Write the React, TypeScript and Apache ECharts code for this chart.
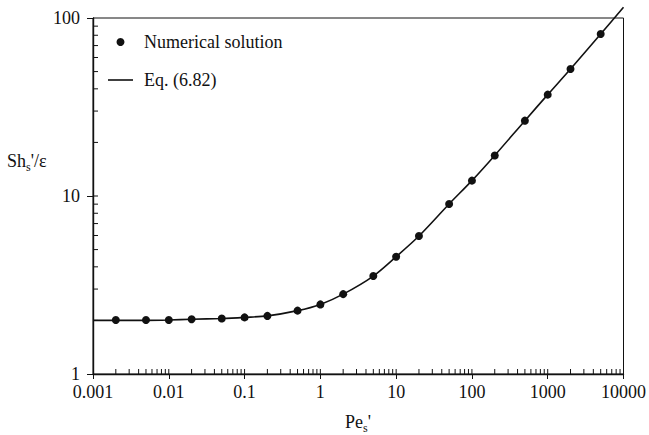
import React, { useEffect, useRef } from "react";
import * as echarts from "echarts";

// Numerical solution points
const pointX = [0.002, 0.005, 0.01, 0.02, 0.05, 0.1, 0.2, 0.5, 1, 2, 5, 10, 20, 50, 100, 200, 500, 1000, 2000, 5000];
const pointY = [2.01, 2.01, 2.01, 2.03, 2.05, 2.08, 2.12, 2.27, 2.46, 2.81, 3.55, 4.56, 5.96, 9.02, 12.2, 16.9, 26.5, 37.1, 51.7, 81.3];

// Eq. (6.82) curve
const lineX = [0.001, 0.002, 0.005, 0.01, 0.02, 0.05, 0.1, 0.2, 0.5, 1, 2, 5, 10, 20, 50, 100, 200, 500, 1000, 2000, 5000, 10000];
const lineY = [2.0, 2.0, 2.0, 2.01, 2.03, 2.05, 2.08, 2.12, 2.27, 2.46, 2.81, 3.55, 4.56, 5.96, 9.02, 12.2, 16.9, 26.5, 37.1, 51.7, 81.3, 115];

// Legend labels
const seriesNames = ["Numerical solution", "Eq. (6.82)"];

// Tick labels
const xTickLabels = ["0.001", "0.01", "0.1", "1", "10", "100", "1000", "10000"];
const yTickLabels = ["1", "10", "100"];

// Tick positions (log decades and minor mantissas)
const xDecades = [0.001, 0.01, 0.1, 1, 10, 100, 1000];
const yDecades = [1, 10];
const minorMantissas = [2, 3, 4, 5, 6, 7, 8, 9];
const xMajorInner = [0.01, 0.1, 1, 10, 100, 1000];
const yMajorInner = [10];

const FONT = "'Liberation Serif', 'Times New Roman', Times, 'DejaVu Serif', serif";
const INK = "#111";

export default function App() {
  const ref = useRef<HTMLDivElement>(null);
  useEffect(() => {
    if (!ref.current) return;
    const chart = echarts.init(ref.current, null, { renderer: "svg" });

    const tickData: number[][] = [];
    xDecades.forEach((d) => minorMantissas.forEach((m) => tickData.push([m * d, 1, 0, 5])));
    xMajorInner.forEach((v) => tickData.push([v, 1, 0, 5]));
    yDecades.forEach((d) => minorMantissas.forEach((m) => tickData.push([0.001, m * d, 1, 5])));
    yMajorInner.forEach((v) => tickData.push([0.001, v, 1, 5]));

    const subRich = {
      a: { fontFamily: FONT, fontSize: 18, lineHeight: 24, fill: INK },
      s: { fontFamily: FONT, fontSize: 12, lineHeight: 13, verticalAlign: "bottom", fill: INK },
    };

    const option: any = {
      animation: false,
      backgroundColor: "#ffffff",
      textStyle: { fontFamily: FONT },
      grid: {
        left: 93,
        right: 24,
        top: 18,
        bottom: 61,
        show: true,
        borderColor: INK,
        borderWidth: 1,
        backgroundColor: "transparent",
      },
      xAxis: {
        type: "log",
        logBase: 10,
        min: 0.001,
        max: 10000,
        axisLine: { lineStyle: { color: INK, width: 1.4 } },
        axisTick: { show: true, inside: false, length: 5, lineStyle: { color: INK, width: 1 } },
        splitLine: { show: false },
        axisLabel: {
          margin: 9,
          fontFamily: FONT,
          fontSize: 18,
          color: INK,
          formatter: (v: number) => xTickLabels[Math.round(Math.log10(v)) + 3] ?? "",
        },
      },
      yAxis: {
        type: "log",
        logBase: 10,
        min: 1,
        max: 100,
        axisLine: { lineStyle: { color: INK, width: 1.4 } },
        axisTick: { show: true, inside: false, length: 6, lineStyle: { color: INK, width: 1 } },
        splitLine: { show: false },
        axisLabel: {
          margin: 13,
          fontFamily: FONT,
          fontSize: 18,
          color: INK,
          formatter: (v: number) => yTickLabels[Math.round(Math.log10(v))] ?? "",
        },
      },
      graphic: [
        // legend
        { type: "circle", shape: { cx: 120.5, cy: 42, r: 4 }, style: { fill: INK } },
        {
          type: "text",
          x: 144,
          y: 42,
          style: { text: seriesNames[0], fontFamily: FONT, fontSize: 18, fill: INK, verticalAlign: "middle" },
        },
        { type: "line", shape: { x1: 108, y1: 80, x2: 133, y2: 80 }, style: { stroke: INK, lineWidth: 1.6 } },
        {
          type: "text",
          x: 144,
          y: 80,
          style: { text: seriesNames[1], fontFamily: FONT, fontSize: 18, fill: INK, verticalAlign: "middle" },
        },
        // axis titles
        {
          type: "text",
          left: 7,
          top: 152,
          style: { text: "{a|Sh}{s|s}{a|'/ε}", fill: INK, rich: subRich },
        },
        {
          type: "text",
          left: 345,
          top: 413,
          style: { text: "{a|Pe}{s|s}{a|'}", fill: INK, rich: subRich },
        },
      ],
      series: [
        {
          name: seriesNames[1],
          type: "line",
          data: lineX.map((x, i) => [x, lineY[i]]),
          showSymbol: false,
          symbol: "none",
          smooth: 0.3,
          clip: false,
          lineStyle: { color: INK, width: 1.6 },
          itemStyle: { color: INK },
          z: 3,
        },
        {
          name: seriesNames[0],
          type: "scatter",
          data: pointX.map((x, i) => [x, pointY[i]]),
          symbol: "circle",
          symbolSize: 8,
          itemStyle: { color: INK, opacity: 1 },
          z: 4,
        },
        {
          type: "custom",
          silent: true,
          clip: false,
          data: tickData,
          encode: { x: 0, y: 1 },
          renderItem: (params: any, api: any) => {
            const p = api.coord([api.value(0), api.value(1)]);
            const kind = api.value(2);
            const len = api.value(3);
            const shape =
              kind === 0
                ? { x1: p[0], y1: p[1], x2: p[0], y2: p[1] - len }
                : { x1: p[0], y1: p[1], x2: p[0] + len, y2: p[1] };
            return {
              type: "line",
              shape,
              style: { stroke: INK, lineWidth: 1 },
            };
          },
          z: 2,
        },
      ],
    };
    chart.setOption(option);
    return () => chart.dispose();
  }, []);
  return (
    <div
      ref={ref}
      style={{ position: "fixed", left: 0, top: 0, width: 649, height: 435, background: "#fff" }}
    />
  );
}
